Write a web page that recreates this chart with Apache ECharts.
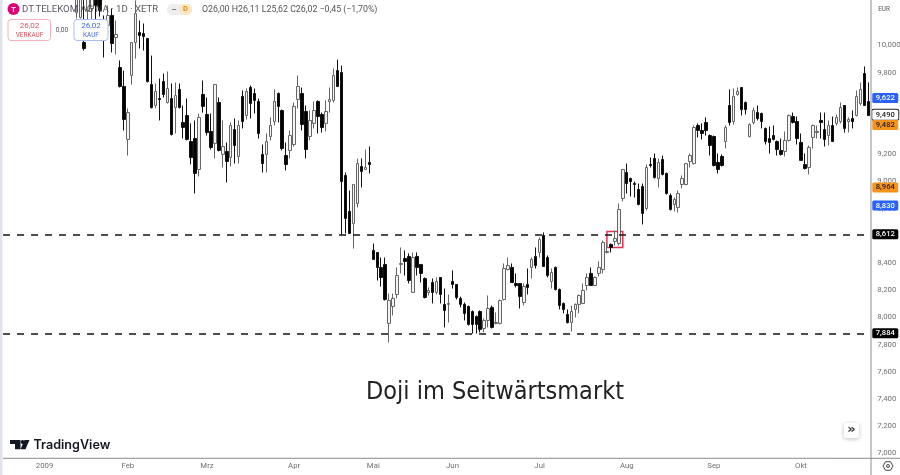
<!DOCTYPE html>
<html><head><meta charset="utf-8">
<style>html,body{margin:0;padding:0;background:#fff}#c{width:900px;height:475px}</style>
<script src="https://cdn.jsdelivr.net/npm/echarts@6/dist/echarts.min.js"></script>
</head><body><div id="c"></div>
<script>
const opens=[10243,10206,10022,10257,10272,10368,10368,10184,10147,10221,
10059,9838,9699,9309,9780,10022,10096,10088,10052,9713,
9559,9610,9735,9581,9610,9544,9677,9434,9485,9294,
9316,9088,9640,9493,9368,9280,9581,9199,9221,9176,
9382,9184,9625,9485,9691,9647,9588,9199,9199,9331,
9441,9647,9522,9191,9228,9272,9603,9647,9515,9331,
9427,9588,9493,9427,9588,9596,9816,9801,9044,8780,
8691,8838,9110,9088,9140,8493,8478,8368,8390,7956,
8081,8169,8390,8434,8449,8184,8449,8390,8287,8184,
8257,8184,8294,8096,8096,8265,8243,8140,8096,8081,
8044,8007,8044,7919,7978,8074,7956,7956,8132,8353,
8368,8250,8250,8110,8243,8368,8449,8478,8603,8441,
8265,8368,8206,8103,8022,7963,8059,8096,8103,8235,
8324,8235,8324,8353,8478,8537,8559,8544,8875,9066,
9022,8985,8941,8963,8802,9125,9169,9022,9162,9059,
8897,8831,8809,8978,8978,9147,9132,9412,9375,9434,
9338,9331,9140,9184,9294,9559,9441,9640,9691,9581,
9331,9434,9507,9500,9390,9316,9338,9294,9228,9221,
9302,9478,9441,9287,9125,9103,9324,9360,9449,9382,
9338,9412,9427,9441,9559,9441,9463,9485,9574,9794,
9588];
const closes=[10405,10368,9978,10368,10390,10294,10257,10110,10221,10015,
10081,9699,9456,9507,10022,10235,10074,10066,9735,9544,
9662,9603,9640,9684,9346,9632,9544,9397,9309,9176,
9059,9471,9552,9360,9250,9713,9228,9257,9147,9412,
9265,9412,9441,9662,9574,9596,9353,9132,9294,9412,
9588,9552,9243,9125,9338,9552,9699,9419,9235,9449,
9522,9478,9397,9515,9603,9779,9699,9000,8728,8618,
8978,9132,9074,9103,9125,8427,8368,8294,8132,8125,
8140,8309,8397,8412,8272,8441,8368,8324,8147,8199,
8184,8265,8169,8052,8103,8243,8147,8096,8030,7949,
7949,7949,7912,7978,8066,7927,7963,8125,8360,8382,
8257,8235,8154,8228,8221,8427,8382,8573,8375,8309,
8331,8206,8088,8059,7963,8044,8096,8162,8199,8294,
8235,8294,8368,8551,8485,8515,8581,8794,9088,8985,
9000,8978,8831,8765,9103,9118,9029,9140,9052,8912,
8794,8868,8912,9022,9132,9191,9397,9375,9353,9375,
9265,9118,9088,9118,9397,9434,9625,9662,9529,9529,
9419,9522,9463,9441,9294,9287,9309,9235,9199,9302,
9485,9434,9316,9155,9096,9250,9412,9368,9434,9309,
9412,9294,9471,9544,9390,9456,9441,9625,9677,9559,
9485];
const lows=[10199,10199,9963,10147,10110,10110,10213,9912,10052,9949,
9934,9691,9375,9191,9713,9904,9978,9963,9728,9537,
9537,9449,9618,9574,9338,9353,9537,9316,9302,9125,
8912,9037,9507,9338,9235,9169,9221,9103,8993,9110,
9132,9132,9390,9456,9463,9500,9316,9066,9066,9302,
9412,9434,9228,9081,9169,9257,9537,9375,9169,9302,
9390,9353,9360,9368,9507,9581,9699,8610,8618,8618,
8507,8809,8956,9088,9059,8427,8272,8228,8125,7816,
8015,8140,8324,8309,8250,8184,8309,8257,8140,8162,
8103,8169,8103,7927,7963,8213,8132,8074,7978,7941,
7882,7882,7890,7890,7927,7919,7949,7949,8125,8346,
8257,8221,8066,8088,8169,8287,8360,8441,8375,8294,
8213,8199,8059,8030,7956,7897,8000,8030,8103,8199,
8235,8235,8302,8324,8471,8478,8529,8529,8853,8912,
8890,8882,8824,8684,8787,9103,9022,8956,9044,8904,
8787,8780,8772,8949,8971,9103,9125,9324,9309,9338,
9191,9110,9059,9110,9243,9412,9419,9632,9485,9493,
9324,9419,9449,9390,9272,9206,9302,9191,9191,9184,
9294,9427,9272,9155,9088,9052,9243,9316,9316,9257,
9265,9294,9412,9427,9360,9360,9390,9478,9559,9559,
9485];
const highs=[10480,10420,10340,10400,10420,10400,10390,10221,10294,10272,
10184,9890,9816,9537,10022,10331,10184,10162,10052,9926,
9721,9757,9794,9809,9721,9728,9721,9559,9610,9427,
9449,9500,9743,9618,9500,9713,9618,9449,9287,9434,
9463,9449,9669,9684,9706,9684,9610,9272,9353,9471,
9677,9655,9529,9287,9375,9581,9779,9691,9559,9522,
9588,9596,9507,9596,9691,9831,9897,9853,9066,8934,
8978,9169,9169,9235,9257,8544,8478,8441,8441,8176,
8176,8368,8515,8493,8471,8478,8478,8390,8294,8221,
8287,8294,8294,8213,8169,8346,8243,8154,8110,8088,
8052,8015,8052,7993,8162,8088,8037,8132,8397,8441,
8397,8324,8250,8250,8360,8441,8515,8588,8625,8456,
8360,8375,8213,8110,8059,8088,8103,8169,8250,8324,
8368,8302,8412,8566,8544,8544,8640,8838,9088,9132,
9029,9000,8985,8985,9125,9176,9206,9169,9191,9066,
8912,8882,8934,9044,9132,9206,9412,9427,9427,9471,
9346,9338,9206,9199,9412,9677,9684,9691,9691,9588,
9427,9544,9559,9507,9397,9405,9412,9302,9316,9368,
9493,9507,9478,9353,9206,9265,9419,9412,9507,9507,
9449,9478,9493,9581,9559,9471,9522,9669,9728,9846,
9728];
const barCount=219, offscreenBars=18;
const monthLabels=['2009','Feb','Mrz','Apr','Mai','Jun','Jul','Aug','Sep','Okt'];
const monthSlots=[10,31,51,73,93,113,135,157,179,201];
const yTicks=[7000,7200,7400,7600,7800,8000,8200,8400,8600,8800,9000,9200,9400,9600,9800,10000];
const supportResistance=[8612,7884];
const priceTags=[9622,9490,9482,8964,8830,8612,7884];
const tagBack=['#2962ff','#ffffff','#f7931a','#f7931a','#2962ff','#000000','#000000'];
const tagText=['#ffffff','#222222','#222222','#222222','#ffffff','#ffffff','#ffffff'];
const tagNudge=[1,0,9,1,1,0,0];
const dojiBox={from:152,to:156,top:8632,bottom:8515};
const title='Doji im Seitwärtsmarkt';

const fmt=v=>v.toLocaleString('en-US');
const categories=Array.from({length:barCount},(_,i)=>{const m=monthSlots.indexOf(i);return m>=0?monthLabels[m]:'';});
const candles=categories.map((_,i)=>{const k=i-offscreenBars;
  return k<0||k>=opens.length?['-','-','-','-']:[opens[k],closes[k],lows[k],highs[k]];});

const chart=echarts.init(document.getElementById('c'),null,{renderer:'canvas',width:900,height:475});
const tagLines=priceTags.map((v,i)=>{
  const dashed=supportResistance.includes(v);
  const white=tagBack[i]==='#ffffff';
  return {yAxis:v,
    lineStyle:dashed?{color:'#222',width:1.6,type:[7,7]}:{color:'rgba(0,0,0,0)',width:1,type:'solid'},
    label:{show:true,position:'end',distance:2,formatter:fmt(v),fontFamily:'Roboto',fontSize:7.6,fontWeight:500,
      color:tagText[i],backgroundColor:tagBack[i],borderColor:white?'#222':tagBack[i],borderWidth:white?1:0,
      borderRadius:1.5,width:26,height:10,lineHeight:10,align:'center',offset:[13,tagNudge[i]],padding:0}};
});
const ink='#444';
const font='Roboto';
chart.setOption({
  animation:false,backgroundColor:'#fff',
  grid:{left:3.04,width:867.24,top:0.5,height:458,outerBoundsMode:'none'},
  xAxis:{type:'category',data:categories,boundaryGap:true,
    axisLine:{show:false},axisTick:{show:false},splitLine:{show:false},
    axisLabel:{interval:(i,v)=>v!=='',color:'#707070',fontFamily:font,fontSize:7.8,margin:4}},
  yAxis:{type:'value',position:'right',min:6963,max:10331,scale:true,
    axisLine:{show:false},axisTick:{show:false},splitLine:{show:false},
    axisLabel:{customValues:yTicks,formatter:v=>fmt(v),color:'#707070',fontFamily:font,fontSize:7.8,margin:7}},
  series:[{type:'candlestick',data:candles,barWidth:3,clip:true,
    itemStyle:{color:'#f4f4f4',color0:'#000',borderColor:'#666',borderColor0:'#111',borderWidth:1},
    markLine:{silent:true,symbol:'none',animation:false,data:tagLines},
    markArea:{silent:true,itemStyle:{color:'rgba(255,255,255,0.35)',borderColor:'#e8334f',borderWidth:1.5},
      data:[[{xAxis:dojiBox.from,yAxis:dojiBox.top},{xAxis:dojiBox.to,yAxis:dojiBox.bottom}]]}
  }],
  graphic:[
    {type:'rect',z:50,shape:{x:0,y:0,width:2.5,height:475},style:{fill:'#e0e3eb'}},
    {type:'line',z:50,shape:{x1:871,y1:0,x2:871,y2:475},style:{stroke:'#b4b4b4',lineWidth:1.5}},
    {type:'line',z:50,shape:{x1:3,y1:458.3,x2:900,y2:458.3},style:{stroke:'#8a8a8a',lineWidth:1}},
    {type:'text',z:60,style:{x:495,y:392,text:title,font:'25px "DejaVu Sans Condensed","DejaVu Sans"',fill:'#222',align:'center',verticalAlign:'middle'}},
    // header
    {type:'circle',z:60,shape:{cx:13.5,cy:9,r:6},style:{fill:'#e20074'}},
    {type:'text',z:61,style:{x:13.5,y:9.5,text:'T',font:'bold 8px Roboto',fill:'#fff',align:'center',verticalAlign:'middle'}},
    {type:'text',z:60,style:{x:22,y:9.5,text:'DT.TELEKOM AG NA · 1D · XETR',font:'9.6px Roboto',fill:'rgba(70,70,80,0.9)',verticalAlign:'middle'}},
    {type:'rect',z:60,shape:{x:167,y:4,width:25,height:11,r:5.5},style:{fill:'#eeeeee'}},
    {type:'rect',z:61,shape:{x:179,y:4,width:13,height:11,r:5.5},style:{fill:'#fde6c4'}},
    {type:'text',z:62,style:{x:174,y:9.5,text:'–',font:'bold 8px Roboto',fill:'#666',align:'center',verticalAlign:'middle'}},
    {type:'text',z:62,style:{x:185.5,y:9.5,text:'D',font:'bold 7.5px Roboto',fill:'#e08a10',align:'center',verticalAlign:'middle'}},
    {type:'text',z:60,style:{x:202,y:9.5,text:'O26,00 H26,11 L25,62 C26,02 −0,45 (−1,70%)',font:'8.8px Roboto',fill:'#555',verticalAlign:'middle'}},
    {type:'rect',z:60,shape:{x:8,y:19.5,width:42.5,height:21,r:3},style:{fill:'#fff',stroke:'#f3b1b8',lineWidth:1}},
    {type:'text',z:61,style:{x:29.5,y:26,text:'26,02',font:'8px Roboto',fill:'#d9505c',align:'center',verticalAlign:'middle'}},
    {type:'text',z:61,style:{x:29.5,y:35,text:'VERKAUF',font:'6.4px Roboto',fill:'#d9505c',align:'center',verticalAlign:'middle'}},
    {type:'text',z:60,style:{x:62,y:30,text:'0,00',font:'6.6px Roboto',fill:'#555',align:'center',verticalAlign:'middle'}},
    {type:'rect',z:60,shape:{x:74,y:19.5,width:34,height:21,r:3},style:{fill:'#fff',stroke:'#a9bdf3',lineWidth:1}},
    {type:'text',z:61,style:{x:91,y:26,text:'26,02',font:'8px Roboto',fill:'#4469d8',align:'center',verticalAlign:'middle'}},
    {type:'text',z:61,style:{x:91,y:35,text:'KAUF',font:'6.4px Roboto',fill:'#4469d8',align:'center',verticalAlign:'middle'}},
    {type:'text',z:60,style:{x:884,y:9,text:'EUR',font:'6.4px Roboto',fill:'#555',align:'center',verticalAlign:'middle'}},
    // logo
    {type:'polygon',z:60,shape:{points:[[10,440],[20.5,440],[20.5,449.3],[15,449.3],[15,444],[10,444]]},style:{fill:'#131722'}},
    {type:'circle',z:60,shape:{cx:22.6,cy:442,r:1.9},style:{fill:'#131722'}},
    {type:'polygon',z:60,shape:{points:[[24.5,440],[29.5,440],[25.5,449.3],[20.5,449.3]]},style:{fill:'#131722'}},
    {type:'text',z:60,style:{x:33.5,y:445,text:'TradingView',font:'600 12.6px Inter',fill:'#131722',verticalAlign:'middle'}},
    // scroll button, settings
    {type:'rect',z:60,shape:{x:844,y:423,width:15,height:15,r:2},style:{fill:'#fff',shadowBlur:4,shadowColor:'rgba(0,0,0,0.25)',shadowOffsetY:1}},
    {type:'text',z:61,style:{x:851.5,y:429.5,text:'»',font:'bold 13px "DejaVu Sans"',fill:'#333',align:'center',verticalAlign:'middle'}},
    {type:'polygon',z:60,shape:{points:[[883,466],[885.5,461.7],[890.5,461.7],[893,466],[890.5,470.3],[885.5,470.3]]},style:{fill:'none',stroke:ink,lineWidth:1}},
    {type:'circle',z:60,shape:{cx:888,cy:466,r:1.5},style:{fill:'none',stroke:ink,lineWidth:1}}
  ]
});
</script></body></html>
